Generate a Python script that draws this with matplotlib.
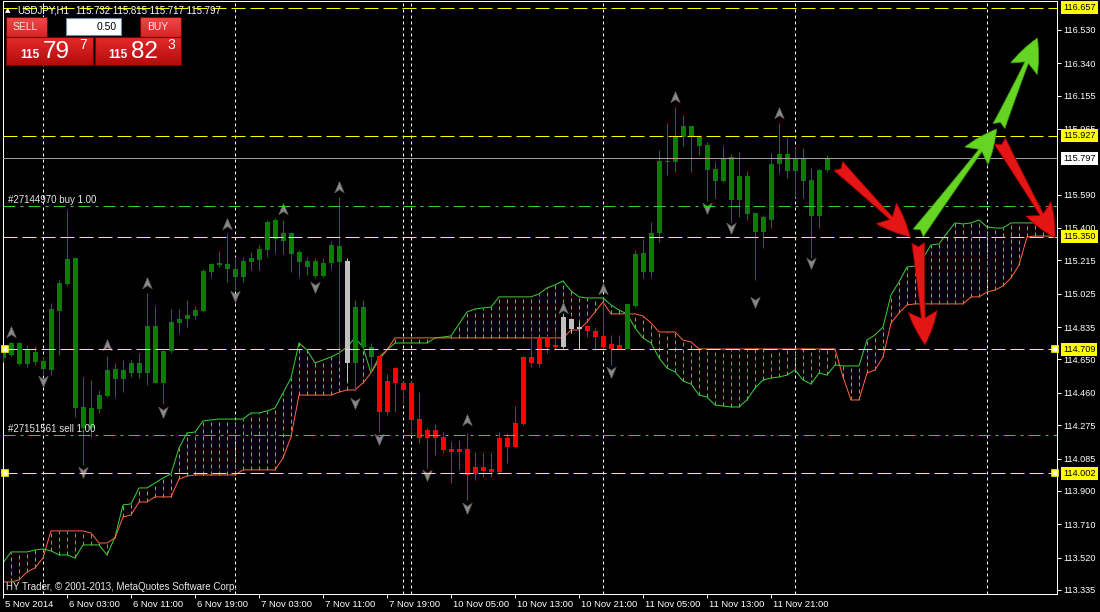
import matplotlib
matplotlib.use("Agg")
import matplotlib.pyplot as plt
import numpy as np
from matplotlib.path import Path
from matplotlib.patches import Rectangle
from matplotlib.colors import LinearSegmentedColormap
import matplotlib.transforms as mtrans

plt.rcParams['font.family'] = ['Liberation Sans', 'DejaVu Sans']
plt.rcParams['lines.scale_dashes'] = False

# ---------------- data ----------------
symbol = "USDJPY,H1"
header_ohlc = ["115.732", "115.815", "115.717", "115.797"]

opens = [114.659, 114.676, 114.744, 114.625, 114.693, 114.642, 114.590, 114.927, 115.081, 115.229,
         114.379, 114.260, 114.368, 114.442, 114.596, 114.539, 114.573, 114.630, 114.573, 114.841,
         114.516, 114.699, 114.859, 114.881, 114.898, 114.927, 115.149, 115.189, 115.195, 115.166,
         115.121, 115.206, 115.218, 115.275, 115.446, 115.326, 115.372, 115.264, 115.212, 115.212,
         115.127, 115.201, 115.298, 115.212, 114.630, 114.950, 114.722, 114.670, 114.351, 114.516,
         114.516, 114.516, 114.311, 114.202, 114.248, 114.208, 114.123, 114.140, 114.140, 113.997,
         114.037, 114.026, 114.009, 114.202, 114.151, 114.282, 114.665, 114.625, 114.773, 114.722,
         114.722, 114.881, 114.824, 114.841, 114.813, 114.784, 114.710, 114.733, 114.710, 114.955,
         115.258, 115.149, 115.372, 115.783, 115.777, 115.920, 115.982, 115.920, 115.874, 115.737,
         115.669, 115.805, 115.560, 115.697, 115.486, 115.378, 115.446, 115.766, 115.823, 115.726,
         115.794, 115.674, 115.469, 115.732]
highs = [114.733, 114.750, 114.750, 114.733, 114.727, 114.665, 114.973, 115.104, 115.503, 115.229,
         114.550, 114.533, 114.476, 114.670, 114.630, 114.647, 114.647, 114.687, 115.030, 114.955,
         114.704, 114.938, 114.938, 114.990, 114.955, 115.166, 115.201, 115.269, 115.366, 115.235,
         115.235, 115.264, 115.303, 115.446, 115.457, 115.446, 115.378, 115.275, 115.235, 115.229,
         115.229, 115.326, 115.577, 115.229, 114.990, 114.990, 114.744, 114.670, 114.567, 114.607,
         114.528, 114.528, 114.465, 114.260, 114.282, 114.237, 114.185, 114.191, 114.231, 114.123,
         114.117, 114.117, 114.237, 114.231, 114.385, 114.670, 114.801, 114.779, 114.790, 114.818,
         114.904, 114.887, 114.864, 114.847, 114.830, 114.978, 114.790, 114.790, 114.967, 115.275,
         115.338, 115.435, 115.845, 115.999, 116.091, 116.045, 115.982, 115.931, 115.891, 115.777,
         115.868, 115.823, 115.834, 115.726, 115.486, 115.474, 115.828, 115.999, 115.913, 115.862,
         115.857, 115.743, 115.737, 115.815]
lows = [114.636, 114.670, 114.619, 114.607, 114.619, 114.562, 114.562, 114.676, 115.070, 114.322,
        114.048, 114.208, 114.345, 114.436, 114.436, 114.465, 114.550, 114.544, 114.505, 114.516,
        114.396, 114.687, 114.801, 114.836, 114.881, 114.921, 115.121, 115.178, 115.092, 115.047,
        115.092, 115.161, 115.161, 115.235, 115.258, 115.252, 115.149, 115.121, 115.132, 115.115,
        115.121, 115.166, 114.647, 114.522, 114.470, 114.704, 114.575, 114.237, 114.333, 114.351,
        114.402, 114.219, 114.174, 114.031, 114.105, 114.117, 113.946, 114.020, 113.849, 113.963,
        113.980, 113.980, 113.997, 114.060, 114.151, 114.276, 114.607, 114.607, 114.687, 114.704,
        114.716, 114.801, 114.710, 114.779, 114.704, 114.704, 114.619, 114.710, 114.710, 114.950,
        115.115, 115.121, 115.321, 115.703, 115.720, 115.868, 115.720, 115.817, 115.554, 115.571,
        115.663, 115.435, 115.463, 115.446, 115.104, 115.286, 115.400, 115.714, 115.685, 115.577,
        115.571, 115.229, 115.400, 115.717]
closes = [114.704, 114.744, 114.625, 114.710, 114.636, 114.596, 114.938, 115.087, 115.224, 114.374,
          114.260, 114.374, 114.448, 114.590, 114.539, 114.590, 114.630, 114.573, 114.841, 114.516,
          114.699, 114.864, 114.881, 114.904, 114.933, 115.155, 115.195, 115.201, 115.166, 115.121,
          115.212, 115.229, 115.281, 115.435, 115.338, 115.372, 115.252, 115.206, 115.178, 115.127,
          115.201, 115.303, 115.206, 114.630, 114.950, 114.722, 114.665, 114.351, 114.528, 114.602,
          114.476, 114.305, 114.202, 114.248, 114.202, 114.134, 114.140, 114.123, 113.991, 114.037,
          114.014, 114.009, 114.202, 114.151, 114.288, 114.665, 114.630, 114.773, 114.722, 114.733,
          114.893, 114.824, 114.836, 114.813, 114.779, 114.722, 114.739, 114.710, 114.967, 115.252,
          115.149, 115.372, 115.783, 115.777, 115.920, 115.982, 115.925, 115.868, 115.731, 115.669,
          115.800, 115.560, 115.697, 115.480, 115.378, 115.463, 115.766, 115.823, 115.726, 115.794,
          115.669, 115.469, 115.731, 115.797]
# trend state of each candle: u = up (green), d = down (red), f = flat (grey)
candle_state = ("uuuuuuuuuuuuuuuuuuuuuuuuuuuuuuuuuuuuuuuuuuu" "f" "uuu"
                "ddddddddddddddddddddddd" "fff" "ddddd"
                "uuuuuuuuuuuuuuuuuuuuuuuuuu")

span_a = [113.489, 113.552, 113.552, 113.552, 113.563, 113.569, 113.558, 113.535, 113.535, 113.518,
          113.592, 113.592, 113.592, 113.535, 113.637, 113.820, 113.826, 113.917, 113.917, 113.945,
          113.974, 113.997, 114.145, 114.231, 114.236, 114.299, 114.305, 114.310, 114.310, 114.310,
          114.310, 114.345, 114.345, 114.356, 114.373, 114.459, 114.544, 114.744, 114.704, 114.630,
          114.647, 114.664, 114.687, 114.721, 114.773, 114.721, 114.573, 114.664, 114.704, 114.744,
          114.744, 114.744, 114.744, 114.744, 114.773, 114.778, 114.784, 114.852, 114.921, 114.938,
          114.944, 114.949, 115.007, 115.007, 115.007, 115.007, 115.007, 115.024, 115.058, 115.075,
          115.098, 115.041, 115.007, 115.001, 115.001, 115.001, 114.961, 114.932, 114.910, 114.830,
          114.773, 114.744, 114.659, 114.601, 114.579, 114.527, 114.510, 114.447, 114.436, 114.390,
          114.385, 114.379, 114.379, 114.419, 114.487, 114.533, 114.544, 114.550, 114.561, 114.590,
          114.533, 114.510, 114.573, 114.561, 114.619, 114.613, 114.613, 114.613, 114.761, 114.790,
          114.835, 115.018, 115.092, 115.178, 115.183, 115.229, 115.303, 115.309, 115.372, 115.429,
          115.423, 115.429, 115.446, 115.406, 115.400, 115.400, 115.429, 115.429, 115.429, 115.429,
          115.429, 115.429]
span_b = [113.381, 113.381, 113.392, 113.438, 113.461, 113.518, 113.672, 113.672, 113.672, 113.672,
          113.672, 113.660, 113.603, 113.603, 113.632, 113.751, 113.763, 113.837, 113.837, 113.866,
          113.866, 113.866, 113.968, 113.985, 113.991, 113.991, 113.991, 113.991, 113.991, 113.991,
          114.020, 114.020, 114.020, 114.020, 114.020, 114.088, 114.208, 114.447, 114.447, 114.447,
          114.447, 114.447, 114.464, 114.476, 114.476, 114.516, 114.573, 114.647, 114.704, 114.773,
          114.773, 114.773, 114.773, 114.773, 114.773, 114.773, 114.773, 114.773, 114.773, 114.773,
          114.773, 114.773, 114.773, 114.773, 114.773, 114.773, 114.773, 114.773, 114.773, 114.773,
          114.773, 114.818, 114.818, 114.864, 114.921, 114.978, 114.910, 114.910, 114.910, 114.910,
          114.898, 114.858, 114.807, 114.807, 114.807, 114.761, 114.750, 114.710, 114.710, 114.710,
          114.710, 114.710, 114.710, 114.710, 114.710, 114.710, 114.710, 114.710, 114.710, 114.710,
          114.710, 114.710, 114.710, 114.710, 114.710, 114.550, 114.419, 114.419, 114.573, 114.590,
          114.664, 114.858, 114.915, 114.961, 114.967, 114.967, 114.967, 114.967, 114.967, 114.967,
          114.967, 115.007, 115.007, 115.035, 115.046, 115.069, 115.115, 115.189, 115.349, 115.354,
          115.354, 115.354]

fractal_up_bars = [1, 13, 18, 28, 35, 42, 58, 70, 75, 84, 97]
fractal_up_vals = [114.807, 114.733, 115.086, 115.423, 115.509, 115.634, 114.305, 114.944, 115.052, 116.148, 116.056]
fractal_dn_bars = [5, 10, 20, 29, 39, 44, 47, 53, 58, 76, 88, 91, 94, 101]
fractal_dn_vals = [114.528, 114.009, 114.351, 115.012, 115.064, 114.402, 114.197, 113.991, 113.803,
                   114.579, 115.514, 115.400, 114.978, 115.201]

separator_bars = [5, 29, 50, 51, 75, 99, 123]

time_tick_bars = [0, 8, 16, 24, 32, 40, 48, 56, 64, 72, 80, 88, 96]
time_labels = ["5 Nov 2014", "6 Nov 03:00", "6 Nov 11:00", "6 Nov 19:00", "7 Nov 03:00",
               "7 Nov 11:00", "7 Nov 19:00", "10 Nov 05:00", "10 Nov 13:00", "10 Nov 21:00",
               "11 Nov 05:00", "11 Nov 13:00", "11 Nov 21:00"]
price_ticks = [116.530, 116.340, 116.155, 115.965, 115.590, 115.400, 115.215, 115.025, 114.835,
               114.650, 114.460, 114.275, 114.085, 113.900, 113.710, 113.520, 113.335]

yellow_levels = [116.657, 115.927, 115.350, 114.709, 114.002]
anchored_levels = [114.709, 114.002]
bid_price = 115.797
order_labels = ["#27144970 buy 1.00", "#27151561 sell 1.00"]
order_prices = [115.525, 114.219]

# drawn arrows (bar index, price) start -> tip
arrow_x0 = [104.4, 114.4, 124.5, 114.4, 124.6]
arrow_y0 = [115.754, 115.372, 115.982, 115.315, 115.896]
arrow_x1 = [113.4, 124.2, 129.3, 115.25, 131.5]
arrow_y1 = [115.349, 115.965, 116.484, 114.733, 115.343]
arrow_kind = ["sell", "buy", "buy", "sell", "sell"]

sell_price = ("115", "79", "7")
buy_price = ("115", "82", "3")
lot_size = "0.50"
copyright_text = "HY Trader, \u00a9 2001-2013, MetaQuotes Software Corp."

# ---------------- drawing ----------------
PX = 0.72  # points per pixel at 100 dpi
GREEN_LINE = '#3ccf3c'
SALMON = '#ff6347'

fig = plt.figure(figsize=(11, 6.12), dpi=100, facecolor='black')
ax = fig.add_axes([3 / 1100, 18 / 612, 1054 / 1100, 593 / 612], facecolor='black')
ax.set_xlim(0, len(span_a) - 1 + 0.75)
ax.set_ylim(113.312, 116.695)
blend = mtrans.blended_transform_factory(ax.transAxes, ax.transData)

for s in separator_bars:
    ax.axvline(s, color='white', lw=PX, ls=(0, (3 * PX, 3 * PX)), zorder=1)

# Ichimoku cloud hatch
xs = np.arange(len(span_a))
for i, (a, b) in enumerate(zip(span_a, span_b)):
    if a == b:
        continue
    col = GREEN_LINE if a > b else SALMON
    ax.vlines(i, min(a, b), max(a, b), colors=col, lw=PX,
              linestyles=[(0, (4 * PX, 3 * PX))], zorder=1.5)
ax.plot(xs, span_a, color=GREEN_LINE, lw=PX, zorder=2)
ax.plot(xs, span_b, color=SALMON, lw=PX, zorder=2)

# candles
state_colors = {'u': '#008000', 'd': '#ff0000', 'f': '#c0c0c0'}
cols = [state_colors[c] for c in candle_state]
xb = np.arange(len(opens))
ax.vlines(xb, lows, highs, colors=cols, lw=PX, zorder=4)
o = np.array(opens); c = np.array(closes)
bottoms = np.minimum(o, c)
heights = np.maximum(np.abs(c - o), 0.006)
ax.bar(xb, heights, bottom=bottoms, width=0.625, color=cols, linewidth=0, zorder=4.1)

# fractal arrows
up_path = Path([(0, 1), (0.8, -0.9), (0, -0.35), (-0.8, -0.9), (0, 1)],
               [Path.MOVETO, Path.LINETO, Path.LINETO, Path.LINETO, Path.CLOSEPOLY])
dn_path = Path([(0, -1), (0.8, 0.9), (0, 0.35), (-0.8, 0.9), (0, -1)],
               [Path.MOVETO, Path.LINETO, Path.LINETO, Path.LINETO, Path.CLOSEPOLY])
ax.plot(fractal_up_bars, fractal_up_vals, ls='none', marker=up_path, ms=8.5,
        mfc='#8a8a8a', mec='#5c5c5c', mew=0.5, zorder=5)
ax.plot(fractal_dn_bars, fractal_dn_vals, ls='none', marker=dn_path, ms=8.5,
        mfc='#8a8a8a', mec='#5c5c5c', mew=0.5, zorder=5)

# horizontal levels
for lvl in yellow_levels:
    ax.axhline(lvl, color='#ffff00', lw=PX, ls=(0, (14 * PX, 5 * PX)), zorder=6)
ax.axhline(bid_price, color='#a0a0a0', lw=PX, zorder=6)
for lab, pr in zip(order_labels, order_prices):
    ax.axhline(pr, color='#32cd32', lw=PX, ls=(0, (12 * PX, 5 * PX, 3 * PX, 5 * PX)), zorder=6)
    ax.text(5 / 1054, pr + 0.004, lab, transform=blend, color='#e6e6e6', fontsize=7,
            va='bottom', ha='left', zorder=7)
for lvl in anchored_levels:
    for xf in (1.5 / 1054, 1 - 2.5 / 1054):
        ax.plot([xf], [lvl], transform=blend, marker='s', ms=4, mfc='white', mec='#ffff00',
                mew=1.2, clip_on=False, zorder=8)

# drawn arrows
for x0, y0, x1, y1, k in zip(arrow_x0, arrow_y0, arrow_x1, arrow_y1, arrow_kind):
    fc, ec = ('#e31515', '#9a0000') if k == 'sell' else ('#66d422', '#3c9a10')
    ax.annotate('', xy=(x1, y1), xytext=(x0, y0), annotation_clip=False,
                arrowprops=dict(arrowstyle='fancy,head_length=1.1,head_width=0.95,tail_width=0.42',
                                fc=fc, ec=ec, lw=0.5, mutation_scale=22, shrinkA=0, shrinkB=0),
                zorder=9)

# axes styling
for sp in ax.spines.values():
    sp.set_color('white')
    sp.set_linewidth(PX)
ax.yaxis.tick_right()
ax.set_yticks(price_ticks)
ax.set_yticklabels([f"{v:.3f}" for v in price_ticks])
ax.tick_params(axis='y', colors='white', length=3, width=PX, labelsize=6.6, pad=1.5)
ax.set_xticks(time_tick_bars)
ax.set_xticklabels(time_labels, ha='left')
ax.tick_params(axis='x', colors='white', length=3, width=PX, labelsize=6.8, pad=1.5)
for lab in ax.get_xticklabels():
    lab.set_transform(lab.get_transform() + mtrans.ScaledTranslation(2 / 100, 0, fig.dpi_scale_trans))

# highlighted price labels on the right scale
for lvl in yellow_levels:
    ax.text(1 + 6 / 1054, lvl, f"{lvl:.3f}", transform=blend, fontsize=6.6, color='black',
            va='center', ha='left', clip_on=False, zorder=10,
            bbox=dict(boxstyle='square,pad=0.22', fc='#ffff00', ec='none'))
ax.text(1 + 6 / 1054, bid_price, f"{bid_price:.3f}", transform=blend, fontsize=6.6, color='black',
        va='center', ha='left', clip_on=False, zorder=10,
        bbox=dict(boxstyle='square,pad=0.22', fc='white', ec='none'))

# ---------------- overlay (header, trade panel, copyright) ----------------
ov = fig.add_axes([0, 0, 1, 1], facecolor='none', zorder=20)
ov.axis('off')


def grad_rect(x0, y0, x1, y1, ctop, cbot, z=1):
    cmap = LinearSegmentedColormap.from_list('g', [ctop, cbot])
    ov.imshow(np.linspace(0, 1, 32).reshape(-1, 1), extent=(x0, x1, y1, y0), cmap=cmap,
              aspect='auto', zorder=z, interpolation='bilinear')
    ov.add_patch(Rectangle((x0, y0), x1 - x0, y1 - y0, fill=False, ec='#7a0000', lw=0.8, zorder=z + 0.1))


grad_rect(6, 17, 47, 37, '#f04a4a', '#d42424')
grad_rect(6, 37, 93, 65, '#e42a2a', '#b40c0c')
grad_rect(140, 17, 181, 37, '#f04a4a', '#d42424')
grad_rect(95, 37, 181, 65, '#e42a2a', '#b40c0c')
ov.add_patch(Rectangle((66, 18), 55, 17, fc='white', ec='#6e8fb5', lw=0.8, zorder=2))
ov.text(117, 27, lot_size, fontsize=7.5, color='black', ha='right', va='center', zorder=3)
ov.text(13, 27.5, "SELL", fontsize=7.5, color='#ffe6e6', ha='left', va='center', zorder=3)
ov.text(147, 27.5, "BUY", fontsize=7.5, color='#ffe6e6', ha='left', va='center', zorder=3)
for (big0, big1, sup), xs0 in ((sell_price, 20), (buy_price, 108)):
    ov.text(xs0, 58, big0, fontsize=8.5, fontweight='bold', color='white', va='baseline', zorder=3)
    ov.text(xs0 + 23, 58.5, big1, fontsize=17.5, color='white', va='baseline', zorder=3)
    ov.text(xs0 + 59, 49, sup, fontsize=10, color='white', va='baseline', zorder=3)

ov.text(5, 10.5, '\u25b2', fontsize=5, color='white', va='center', ha='left',
        family=['DejaVu Sans'], zorder=3)
ov.text(17, 10.5, symbol, fontsize=7, color='white', va='center', ha='left', zorder=3)
ov.text(76, 10.5, " ".join(header_ohlc), fontsize=7, color='white', va='center', ha='left', zorder=3)
ov.text(6, 587, copyright_text, fontsize=7, color='#e6e6e6', va='center', ha='left', zorder=3)
ov.set_xlim(0, 1100)
ov.set_ylim(612, 0)

fig.savefig('out.png', dpi=100, facecolor='black')
